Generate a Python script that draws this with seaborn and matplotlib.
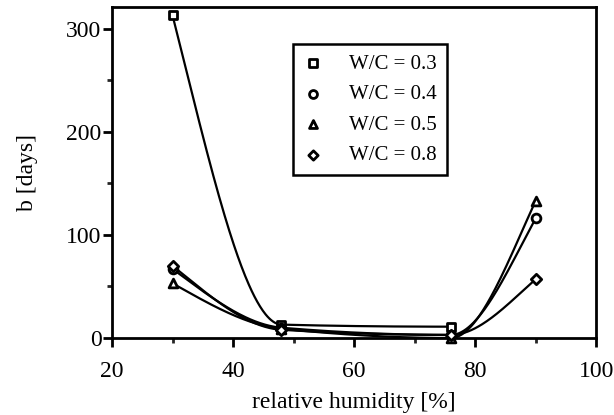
import numpy as np
import pandas as pd
import matplotlib
matplotlib.use("Agg")
import matplotlib.pyplot as plt
import seaborn as sns

# data
rh_03 = [30, 48, 76]
b_03 = [313, 13, 11]
rh = [30, 48, 76, 90]
b_04 = [67, 10, 3, 116]
b_05 = [53, 9, 0, 133]
b_08 = [70, 8, 3, 57]

series = [
    ("W/C = 0.3", rh_03, b_03, "s"),
    ("W/C = 0.4", rh, b_04, "o"),
    ("W/C = 0.5", rh, b_05, "^"),
    ("W/C = 0.8", rh, b_08, "D"),
]


def pchip(x, y, xs):
    # monotone cubic hermite through the measured points
    x = np.asarray(x, float)
    y = np.asarray(y, float)
    h = np.diff(x)
    d = np.diff(y) / h
    n = len(x)
    m = np.zeros(n)
    for k in range(1, n - 1):
        if d[k - 1] * d[k] > 0:
            w1 = 2 * h[k] + h[k - 1]
            w2 = h[k] + 2 * h[k - 1]
            m[k] = (w1 + w2) / (w1 / d[k - 1] + w2 / d[k])
    # end slopes
    v = ((2 * h[0] + h[1]) * d[0] - h[0] * d[1]) / (h[0] + h[1])
    if np.sign(v) != np.sign(d[0]):
        v = 0
    elif np.sign(d[0]) != np.sign(d[1]) and abs(v) > abs(3 * d[0]):
        v = 3 * d[0]
    m[0] = v
    v = ((2 * h[-1] + h[-2]) * d[-1] - h[-1] * d[-2]) / (h[-1] + h[-2])
    if np.sign(v) != np.sign(d[-1]):
        v = 0
    elif np.sign(d[-1]) != np.sign(d[-2]) and abs(v) > abs(3 * d[-1]):
        v = 3 * d[-1]
    m[-1] = v
    idx = np.clip(np.searchsorted(x, xs) - 1, 0, n - 2)
    t = (xs - x[idx]) / h[idx]
    h00 = 2 * t**3 - 3 * t**2 + 1
    h10 = t**3 - 2 * t**2 + t
    h01 = -2 * t**3 + 3 * t**2
    h11 = t**3 - t**2
    return h00 * y[idx] + h10 * h[idx] * m[idx] + h01 * y[idx + 1] + h11 * h[idx] * m[idx + 1]


sns.set_theme(style="ticks")
plt.rcParams["font.family"] = ["Liberation Serif", "DejaVu Serif"]
plt.rcParams["text.color"] = "black"
plt.rcParams["axes.labelcolor"] = "black"

fig = plt.figure(figsize=(6.14, 4.15), dpi=100)
ax = fig.add_axes([0.1824, 0.1855, 0.7885, 0.7975])

for label, xv, yv, mk in series:
    xs = np.linspace(xv[0], xv[-1], 300)
    curve = pd.DataFrame({"x": xs, "y": pchip(xv, yv, xs)})
    sns.lineplot(data=curve, x="x", y="y", color="black", linewidth=1.6,
                 ax=ax, legend=False, clip_on=False)
    pts = pd.DataFrame({"x": xv, "y": yv})
    sns.scatterplot(data=pts, x="x", y="y", marker=mk, s=40 if mk != "D" else 28,
                    facecolor="white", edgecolor="black", linewidth=2,
                    ax=ax, label=label, zorder=5, clip_on=False)

ax.set_xlim(20, 100)
ax.set_ylim(0, 321)
ax.set_xticks([20, 40, 60, 80, 100])
ax.set_xticks([30, 50, 70, 90], minor=True)
ax.set_yticks([0, 100, 200, 300])
ax.set_yticks([50, 150, 250], minor=True)

for s in ax.spines.values():
    s.set_visible(True)
    s.set_linewidth(2)
    s.set_color("black")

ax.tick_params(which="major", direction="out", length=6.5, width=2,
               labelsize=17, colors="black")
ax.tick_params(which="minor", direction="out", length=3.5, width=2)
ax.tick_params(axis="x", which="major", pad=10)
ax.tick_params(axis="y", which="major", pad=1)

ax.set_xlabel("relative humidity [%]", fontsize=17, labelpad=7)
ax.set_ylabel("b [days]", fontsize=17, labelpad=20)

leg = ax.legend(loc="upper left", bbox_to_anchor=(0.373, 0.889), frameon=True,
                fancybox=False, edgecolor="black", fontsize=15, handletextpad=1.2,
                borderpad=0.5, labelspacing=0.52, handlelength=1.0,
                borderaxespad=0, markerscale=0.9)
leg.get_frame().set_linewidth(1.8)
leg.get_frame().set_alpha(1)

fig.savefig("out.png", dpi=100)
